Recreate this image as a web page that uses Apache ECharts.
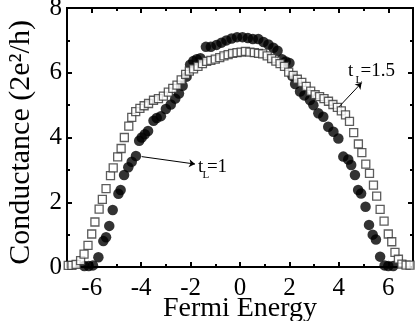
<!DOCTYPE html>
<html><head><meta charset="utf-8">
<script src="https://cdn.jsdelivr.net/npm/echarts@6/dist/echarts.min.js"></script>
<style>html,body{margin:0;padding:0;background:#fff}#c{width:415px;height:321px}</style>
</head><body><div id="c"></div>
<script>
// ---- data ----
const xTickLabels = [-6, -4, -2, 0, 2, 4, 6];
const yTickLabels = [0, 2, 4, 6, 8];

// t_L = 1 (filled circles)
const circleX = [-6.3, -6.12, -5.95, -5.73, -5.53, -5.42, -5.29, -5.15, -4.92, -4.83, -4.69, -4.52, -4.38, -4.21,
  -4.08, -3.98, -3.85, -3.72, -3.5, -3.37, -3.2, -3.0, -2.8, -2.62, -2.47, -2.32, -2.16, -2.02, -1.89, -1.75, -1.6,
  -1.38, -1.18, -0.95, -0.75, -0.55, -0.34, -0.12, 0.1, 0.32, 0.52, 0.74, 0.95, 1.15, 1.35, 1.52, 1.7, 1.85, 2.0,
  2.12, 2.23, 2.43, 2.6, 2.83, 2.97, 3.17, 3.37, 3.57, 3.78, 3.98, 4.18, 4.38, 4.5, 4.65, 4.78, 4.9, 5.08, 5.22,
  5.37, 5.5, 5.67, 5.85, 6.0, 6.2];
const circleY = [0.03, 0.03, 0.05, 0.3, 0.8, 0.92, 1.27, 1.76, 2.26, 2.38, 2.84, 3.08, 3.25, 3.43,
  3.9, 4.0, 4.1, 4.2, 4.52, 4.6, 4.66, 4.88, 5.02, 5.2, 5.36, 5.6, 5.88, 6.25, 6.36, 6.42, 6.45,
  6.8, 6.8, 6.86, 6.93, 7.0, 7.06, 7.1, 7.1, 7.07, 7.04, 7.04, 6.95, 6.87, 6.77, 6.68, 6.42, 6.35, 6.3,
  5.9, 5.65, 5.42, 5.3, 5.16, 5.0, 4.75, 4.64, 4.33, 4.18, 3.97, 3.41, 3.32, 3.15, 2.84, 2.38, 2.27, 1.86, 1.3,
  1.0, 0.85, 0.32, 0.05, 0.03, 0.03];

// t_L = 1.5 (open squares)
const squareX = [-6.95, -6.8, -6.63, -6.45, -6.31, -6.15, -6.0, -5.87, -5.7, -5.57, -5.42, -5.24, -5.13, -4.95,
  -4.81, -4.68, -4.5, -4.38, -4.22, -4.05, -3.88, -3.7, -3.5, -3.3, -3.1, -2.9, -2.72, -2.55, -2.38, -2.2, -2.05,
  -1.88, -1.7, -1.52, -1.35, -1.18, -1.0, -0.82, -0.65, -0.48, -0.3, -0.12, 0.05, 0.22, 0.4, 0.58, 0.75, 0.92,
  1.1, 1.28, 1.45, 1.62, 1.8, 1.97, 2.15, 2.32, 2.5, 2.68, 2.86, 3.04, 3.22, 3.4, 3.58, 3.76, 3.94, 4.1, 4.27,
  4.43, 4.6, 4.79, 4.93, 5.09, 5.24, 5.4, 5.53, 5.67, 5.83, 6.0, 6.14, 6.27, 6.41, 6.55, 6.72, 6.88];
const squareY = [0.05, 0.05, 0.08, 0.2, 0.4, 0.67, 1.02, 1.39, 1.79, 2.09, 2.42, 2.82, 3.06, 3.4,
  3.66, 4.0, 4.35, 4.62, 4.8, 4.9, 4.98, 5.05, 5.15, 5.2, 5.28, 5.4, 5.52, 5.62, 5.78, 5.95, 6.05,
  6.12, 6.2, 6.28, 6.35, 6.38, 6.42, 6.47, 6.52, 6.56, 6.6, 6.62, 6.64, 6.66, 6.64, 6.62, 6.6, 6.58,
  6.52, 6.44, 6.36, 6.28, 6.2, 6.02, 5.92, 5.8, 5.7, 5.58, 5.43, 5.32, 5.26, 5.2, 5.12, 5.02, 4.93, 4.82, 4.7,
  4.5, 4.15, 3.8, 3.53, 3.18, 2.89, 2.53, 2.19, 1.78, 1.42, 1.02, 0.78, 0.45, 0.24, 0.09, 0.06, 0.06];

const seriesNames = ['t_L=1', 't_L=1.5'];

// ---- chart ----
const FONT = '"Liberation Serif", "Times New Roman", serif';
const pair = (xs, ys) => xs.map((x, i) => [x, ys[i]]);
const chart = echarts.init(document.getElementById('c'), null, {renderer: 'canvas'});

const frameLine = {show: true, onZero: false, lineStyle: {color: '#000', width: 2}};
const majorTick = {show: true, inside: true, length: 5, lineStyle: {color: '#000', width: 2}};
const minorTickX = {show: true, inside: true, length: 3, lineStyle: {color: '#000', width: 2}};
const gridBox = {left: 67, right: 2, top: 8, bottom: 54, containLabel: false, outerBoundsMode: 'none'};

function xMain(pos, withLabels) {
  return {
    gridIndex: 0, type: 'value', position: pos, min: -7, max: 7, splitNumber: 7, show: true,
    axisLine: frameLine, axisTick: majorTick, splitLine: {show: false},
    axisLabel: withLabels ? {
      show: true, color: '#000', fontFamily: FONT, fontSize: 25, margin: 9,
      formatter: v => xTickLabels.indexOf(v) >= 0 ? String(v) : ''
    } : {show: false},
    name: withLabels ? 'Fermi Energy' : '', nameLocation: 'middle', nameGap: 28, nameMoveOverlap: false,
    nameTextStyle: {color: '#000', fontFamily: FONT, fontSize: 28}
  };
}
function xMinor(pos) {
  return {
    gridIndex: 1, type: 'value', position: pos, min: -7, max: 7, interval: 1, show: true,
    axisLine: {show: false}, axisTick: minorTickX, splitLine: {show: false},
    axisLabel: {show: false}
  };
}
function yAxisDef(pos, withLabels) {
  return {
    gridIndex: 0, type: 'value', position: pos, min: 0, max: 8, interval: 2, show: true,
    axisLine: frameLine, axisTick: majorTick,
    minorTick: {show: true, splitNumber: 2, length: 3, lineStyle: {color: '#000', width: 2}},
    splitLine: {show: false}, minorSplitLine: {show: false},
    axisLabel: withLabels ? {
      show: true, color: '#000', fontFamily: FONT, fontSize: 25, margin: 5,
      formatter: v => yTickLabels.indexOf(v) >= 0 ? String(v) : ''
    } : {show: false},
    name: withLabels ? 'Conductance (2e²/h)' : '', nameLocation: 'middle', nameGap: 31, nameMoveOverlap: false,
    nameTextStyle: {color: '#000', fontFamily: FONT, fontSize: 30, padding: [0, 10, 0, 0]}
  };
}

chart.setOption({
  animation: false,
  backgroundColor: '#fff',
  grid: [Object.assign({show: true, borderColor: '#000', borderWidth: 2, backgroundColor: 'transparent'}, gridBox),
    Object.assign({}, gridBox)],
  xAxis: [xMain('bottom', true), xMain('top', false), xMinor('bottom'), xMinor('top')],
  yAxis: [yAxisDef('left', true), yAxisDef('right', false),
    {gridIndex: 1, type: 'value', min: 0, max: 8, show: false}],
  series: [{
    name: seriesNames[0], type: 'scatter', xAxisIndex: 0, yAxisIndex: 0,
    data: pair(circleX, circleY), symbol: 'circle', symbolSize: 10.5,
    itemStyle: {color: '#000'}, clip: false,
    markLine: {
      silent: true, symbol: ['none', 'arrow'], symbolSize: 6, animation: false,
      lineStyle: {color: '#000', width: 1, type: 'solid'}, label: {show: false},
      emphasis: {disabled: true},
      data: [
        [{coord: [-3.98, 3.41]}, {coord: [-1.82, 3.18]}],
        [{coord: [4.01, 4.95]}, {coord: [4.92, 5.69]}]
      ]
    }
  }, {
    name: seriesNames[1], type: 'scatter', xAxisIndex: 0, yAxisIndex: 0,
    data: pair(squareX, squareY), symbol: 'rect', symbolSize: 8,
    itemStyle: {color: '#fff', borderColor: '#333', borderWidth: 1.3}, clip: false
  }]
});

// annotation texts placed in data coordinates
function px(x, y) { return chart.convertToPixel({xAxisIndex: 0, yAxisIndex: 0}, [x, y]); }
function txt(x, y, s, size) {
  const p = px(x, y);
  return {type: 'text', x: p[0], y: p[1], silent: true,
    style: {text: s, fill: '#000', font: size + 'px ' + FONT, textAlign: 'left', textVerticalAlign: 'middle'}};
}
chart.setOption({graphic: [
  txt(-1.70, 3.09, 't', 19), txt(-1.52, 2.85, 'L', 11), txt(-1.34, 3.09, '=1', 19),
  txt(4.37, 6.05, 't', 19), txt(4.67, 5.78, 'L', 11), txt(4.88, 6.05, '=1.5', 19)
]});
</script></body></html>
